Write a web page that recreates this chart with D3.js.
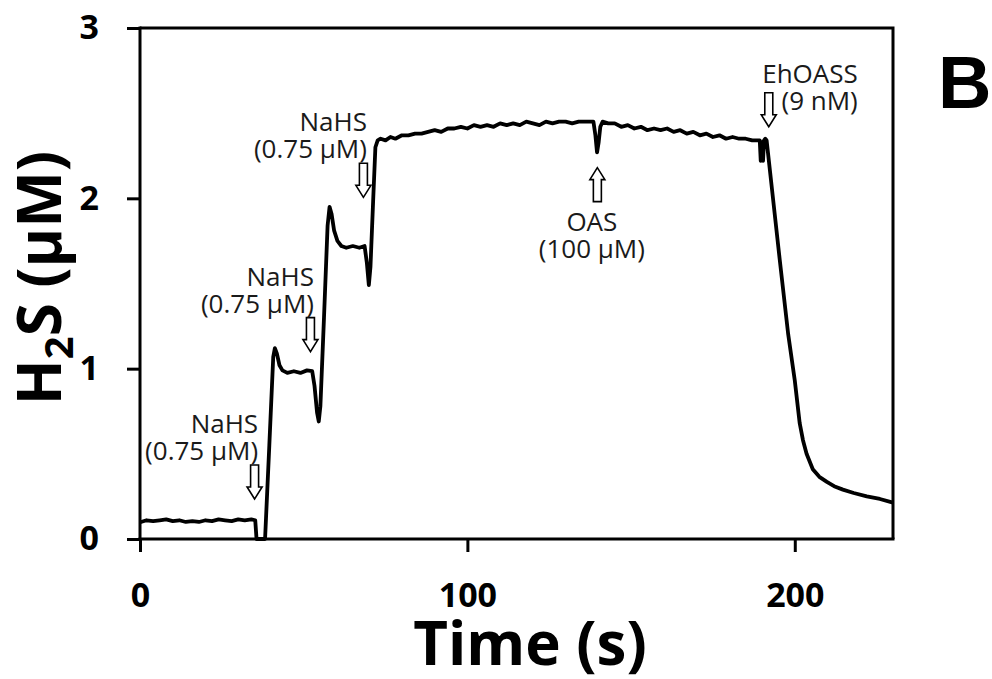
<!DOCTYPE html>
<html>
<head>
<meta charset="utf-8">
<script src="https://cdn.jsdelivr.net/npm/d3@7"></script>
<style>
  html, body { margin: 0; padding: 0; background: #fff; }
  svg { display: block; }
</style>
</head>
<body>
<svg id="chart" width="992" height="679"></svg>
<script>
// ---- data ----
const time = [0.3, 2, 4, 6, 8, 10, 12, 14, 16, 18, 20, 22, 24, 26, 28, 30, 32, 34, 35.2, 35.6,
  38.2, 39.5, 40.7, 41.2, 41.8, 42.6, 43.5, 45, 47, 49, 51, 52.6, 53.3, 54.1, 54.6, 55.1,
  56.2, 57.3, 57.9, 58.5, 59.3, 60.3, 61.5, 63, 65, 67, 68.6, 69.3, 69.9, 70.4, 71.2, 71.9,
  72.6, 73.5, 75, 76.5, 78, 80, 82, 84, 86, 88, 90, 92, 94, 96, 98, 100, 102, 104, 106, 108,
  110, 112, 114, 116, 118, 120, 122, 124, 126, 128, 130, 132, 134, 136, 138.5, 139.1, 139.6,
  140.1, 140.6, 141.3, 143, 145, 147, 149, 151, 153, 155, 157, 159, 161, 163, 165, 167, 169,
  171, 173, 175, 177, 179, 181, 183, 185, 187, 189.3, 189.6, 189.9, 190.3, 190.6, 191.0,
  191.4, 193, 195.4, 198, 200, 201.5, 202.5, 203.6, 205.5, 207.5, 209.8, 212, 214.7, 218,
  222, 226, 229.7];
const h2s = [0.10, 0.11, 0.105, 0.11, 0.115, 0.105, 0.11, 0.10, 0.105, 0.10, 0.11, 0.105, 0.115,
  0.11, 0.105, 0.115, 0.11, 0.115, 0.11, 0.0,
  0.0, 0.55, 1.07, 1.12, 1.09, 1.02, 0.99, 0.975, 0.985, 0.975, 0.99, 0.985, 0.90, 0.74, 0.69, 0.78,
  1.30, 1.84, 1.95, 1.91, 1.81, 1.75, 1.72, 1.71, 1.72, 1.71, 1.72, 1.62, 1.49, 1.60, 1.98, 2.30,
  2.34, 2.35, 2.34, 2.36, 2.35, 2.37, 2.37, 2.38, 2.38, 2.39, 2.40, 2.39, 2.41, 2.41, 2.42, 2.41,
  2.43, 2.42, 2.43, 2.42,
  2.44, 2.43, 2.44, 2.43, 2.45, 2.44, 2.43, 2.45, 2.44, 2.45, 2.45, 2.44, 2.45, 2.45, 2.45, 2.37, 2.27,
  2.33, 2.42, 2.45, 2.44, 2.44, 2.42, 2.43, 2.41, 2.42, 2.40, 2.41, 2.40, 2.41, 2.39, 2.40, 2.38, 2.39,
  2.37, 2.38, 2.36, 2.37, 2.35, 2.36, 2.35, 2.35, 2.34, 2.34, 2.22, 2.33, 2.22, 2.34, 2.35,
  2.34, 2.06, 1.64, 1.20, 0.93, 0.68, 0.58, 0.50, 0.41, 0.365, 0.335, 0.31, 0.29, 0.27,
  0.25, 0.235, 0.215];
const xTicks = [0, 100, 200];
const yTicks = [0, 1, 2, 3];
const xDomain = [0, 230];
const yDomain = [0, 3];
const xTitle = "Time (s)";
const panelLabel = "B";

// annotations: arrow x (time), arrow tip (H2S), direction, text lines
const annTime = [35.0, 52.06, 68.24, 139.7, 192.06];
const annTip  = [0.235, 1.10, 2.006, 2.18, 2.42];
const annDir  = ["down", "down", "down", "up", "down"];
const annLine1 = ["NaHS", "NaHS", "NaHS", "OAS", "EhOASS"];
const annLine2 = ["(0.75 μM)", "(0.75 μM)", "(0.75 μM)", "(100 μM)", "(9 nM)"];

// ---- layout ----
const svg = d3.select("#chart");
const L = 140, R = 893, T = 28, B = 539;
const x = d3.scaleLinear().domain(xDomain).range([L, R]);
const y = d3.scaleLinear().domain(yDomain).range([B, T]);

const FONT = "'Open Sans', 'Noto Sans', sans-serif";

// frame (top & right)
svg.append("path")
  .attr("d", `M${L},${T} H${R} V${B}`)
  .attr("fill", "none").attr("stroke", "#000").attr("stroke-width", 3);

// axes
const xAxis = svg.append("g").attr("transform", `translate(0,${B})`)
  .call(d3.axisBottom(x).tickValues(xTicks).tickSize(13).tickSizeOuter(0).tickPadding(31).tickFormat(d3.format("d")));
const yAxis = svg.append("g").attr("transform", `translate(${L},0)`)
  .call(d3.axisLeft(y).tickValues(yTicks).tickSize(13).tickSizeOuter(0).tickPadding(28).tickFormat(d3.format("d")));
[xAxis, yAxis].forEach(g => {
  g.select(".domain").attr("stroke", "#000").attr("stroke-width", 3);
  g.selectAll(".tick line").attr("stroke", "#000").attr("stroke-width", 3);
  g.selectAll(".tick text").attr("fill", "#000")
    .style("font-family", FONT).style("font-weight", "700").style("font-size", "34px");
});
xAxis.select(".domain").attr("d", `M${L - 1.5},0H${R + 1.5}`);
yAxis.select(".domain").attr("d", `M0,${B + 1.5}V${T - 1.5}`);

// trace
const data = time.map((t, i) => [t, h2s[i]]);
svg.append("path")
  .datum(data)
  .attr("fill", "none").attr("stroke", "#000").attr("stroke-width", 3.8)
  .attr("stroke-linejoin", "round").attr("stroke-linecap", "round")
  .attr("d", d3.line().x(d => x(d[0])).y(d => y(d[1])));

// axis titles
svg.append("text")
  .attr("x", 530).attr("y", 665).attr("text-anchor", "middle")
  .style("font-family", FONT).style("font-weight", "700").style("font-size", "60px")
  .text(xTitle);

const yt = svg.append("text")
  .attr("transform", "translate(61,278) rotate(-90)")
  .attr("text-anchor", "middle")
  .style("font-family", FONT).style("font-weight", "700").style("font-size", "60px");
yt.append("tspan").text("H");
yt.append("tspan").attr("dy", 12).style("font-size", "40px").text("2");
yt.append("tspan").attr("dy", -12).text("S (μM)");

// panel label
svg.append("text")
  .attr("x", 938).attr("y", 108)
  .style("font-family", "'Liberation Sans', Arial, sans-serif").style("font-weight", "700").style("font-size", "74px")
  .text(panelLabel);

// annotations
function arrowPath(cx, tipY, dir) {
  const len = 34, head = 12, hw = 7.5, sw = 4;
  const s = dir === "down" ? -1 : 1;
  const tail = tipY + s * len, neck = tipY + s * head;
  return `M${cx},${tipY} L${cx - hw},${neck} L${cx - sw},${neck} L${cx - sw},${tail} ` +
         `L${cx + sw},${tail} L${cx + sw},${neck} L${cx + hw},${neck} Z`;
}
const annStyle = sel => sel.style("font-family", FONT).style("font-size", "26px").attr("fill", "#1a1a1a");
annTime.forEach((t, i) => {
  const cx = x(t), tip = y(annTip[i]);
  svg.append("path").attr("d", arrowPath(cx, tip, annDir[i]))
    .attr("fill", "#fff").attr("stroke", "#000").attr("stroke-width", 1.6).attr("stroke-linejoin", "miter");
  let tx, anchor, b1;
  if (annDir[i] === "up") {
    tx = cx - 5.5; anchor = "middle"; b1 = tip + 34 + 29;
  } else if (i === 4) {
    tx = cx + 89; anchor = "end"; b1 = tip - 34 - 10;
  } else {
    tx = cx + 3.5; anchor = "end"; b1 = tip - 34 - 32;
  }
  svg.append("text").attr("x", tx).attr("y", b1).attr("text-anchor", anchor).call(annStyle).text(annLine1[i]);
  svg.append("text").attr("x", tx).attr("y", b1 + 27).attr("text-anchor", anchor).call(annStyle).text(annLine2[i]);
});
</script>
</body>
</html>
